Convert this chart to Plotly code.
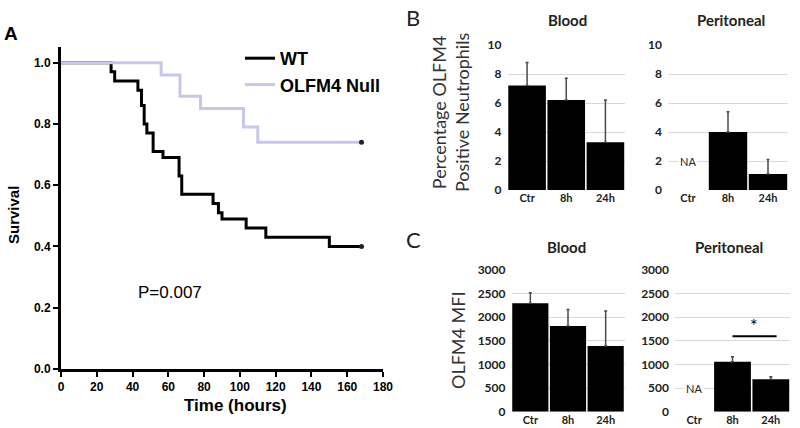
import plotly.graph_objects as go

# ---------------- Data ----------------
# Panel A: Kaplan-Meier survival
wt_time = [0, 28, 30, 43, 45, 46.5, 48, 51.5, 57, 66, 67.5, 85, 88, 90, 103.5, 114.5, 150, 168]
wt_surv = [1.0, 0.97, 0.94, 0.91, 0.86, 0.80, 0.77, 0.71, 0.69, 0.63, 0.57, 0.54, 0.51, 0.49, 0.46, 0.43, 0.40, 0.40]
null_time = [0, 56, 66.5, 78, 102, 110, 168]
null_surv = [1.0, 0.96, 0.89, 0.85, 0.79, 0.74, 0.74]

# Panels B/C: bar charts
categories = ["Ctr", "8h", "24h"]
b_blood = [7.2, 6.2, 3.3]
b_blood_err = [1.6, 1.5, 2.9]
b_perit = [None, 4.0, 1.1]
b_perit_err = [None, 1.4, 1.0]
c_blood = [2295, 1815, 1390]
c_blood_err = [225, 350, 740]
c_perit = [None, 1060, 686]
c_perit_err = [None, 105, 55]

W, H = 800, 428
def fx(px):
    return px / W
def fy(py):
    return 1 - py / H

SURV_FONT = "Liberation Sans, Arial, sans-serif"
BAR_FONT = "Lato, Open Sans, sans-serif"
LAV = "#c6c7ea"

fig = go.Figure()

# ---- Panel A ----
fig.add_trace(go.Scatter(x=wt_time, y=wt_surv, mode="lines", line=dict(shape="hv", color="black", width=3),
                         name="WT", xaxis="x", yaxis="y"))
fig.add_trace(go.Scatter(x=null_time, y=null_surv, mode="lines", line=dict(shape="hv", color=LAV, width=3),
                         name="OLFM4 Null", xaxis="x", yaxis="y"))
fig.add_trace(go.Scatter(x=[wt_time[-1], null_time[-1]], y=[wt_surv[-1], null_surv[-1]], mode="markers",
                         marker=dict(color="#222", size=5), showlegend=False, xaxis="x", yaxis="y"))

# ---- Bar panels ----
def add_bars(vals, errs, xa, ya):
    fig.add_trace(go.Bar(x=categories, y=vals, marker=dict(color="black", line=dict(width=0)),
                         error_y=dict(type="data", array=errs, arrayminus=[0, 0, 0], symmetric=False,
                                      color="#4a4a4a", thickness=1.5, width=1.5),
                         showlegend=False, xaxis=xa, yaxis=ya))

add_bars(b_blood, b_blood_err, "x2", "y2")
add_bars(b_perit, b_perit_err, "x3", "y3")
add_bars(c_blood, c_blood_err, "x4", "y4")
add_bars(c_perit, c_perit_err, "x5", "y5")

surv_tick = dict(family=SURV_FONT, size=12, color="black", weight="bold")
bar_tick = dict(family=BAR_FONT, size=12, color="#222", weight="bold")
cat_tick = dict(family=BAR_FONT, size=11, color="#222", weight="bold")

layout = dict(
    width=W, height=H, margin=dict(l=0, r=0, t=0, b=0, autoexpand=False),
    plot_bgcolor="white", paper_bgcolor="white",
    bargap=0.04,
    showlegend=True,
    legend=dict(x=fx(240), y=fy(40), xanchor="left", yanchor="top", bgcolor="rgba(0,0,0,0)",
                font=dict(family=SURV_FONT, size=18, color="black", weight="bold"), tracegroupgap=0),
    xaxis=dict(domain=[fx(61), fx(383)], range=[0, 180], tickmode="array", tickvals=list(range(0, 181, 20)),
               showgrid=False, zeroline=False, showline=True, linecolor="black", linewidth=3,
               ticks="outside", ticklen=5, tickwidth=2, tickcolor="black", tickfont=surv_tick, anchor="y"),
    yaxis=dict(domain=[fy(369), fy(46.7)], range=[0, 1.052], tickmode="array", tickvals=[0, 0.2, 0.4, 0.6, 0.8, 1.0],
               tickformat=".1f", showgrid=False, zeroline=False, showline=True, linecolor="black", linewidth=3,
               ticks="outside", ticklen=5, tickwidth=2, tickcolor="black", tickfont=surv_tick, anchor="x"),
)

def bar_axes(xd, yd, yrange, ytickvals):
    xa = dict(domain=xd, showgrid=False, zeroline=False, showline=False, ticks="", tickfont=cat_tick,
              type="category", range=[-0.5, 2.5])
    ya = dict(domain=yd, range=yrange, tickvals=ytickvals, showgrid=True, gridcolor="#d9d9d9", gridwidth=1,
              zeroline=False, showline=False, ticks="", tickfont=bar_tick, ticklabelstandoff=5)
    return xa, ya

bx, by = bar_axes([fx(507.5), fx(625)], [fy(190), fy(45)], [0, 10], [0, 2, 4, 6, 8, 10])
layout["xaxis2"] = dict(bx, anchor="y2"); layout["yaxis2"] = dict(by, anchor="x2")
bx, by = bar_axes([fx(668), fx(788)], [fy(190), fy(45)], [0, 10], [0, 2, 4, 6, 8, 10])
layout["xaxis3"] = dict(bx, anchor="y3"); layout["yaxis3"] = dict(by, anchor="x3")
bx, by = bar_axes([fx(511.5), fx(624.5)], [fy(411.7), fy(270)], [0, 3000], [0, 500, 1000, 1500, 2000, 2500, 3000])
layout["xaxis4"] = dict(bx, anchor="y4"); layout["yaxis4"] = dict(by, anchor="x4")
bx, by = bar_axes([fx(675), fx(790)], [fy(411.7), fy(270)], [0, 3000], [0, 500, 1000, 1500, 2000, 2500, 3000])
layout["xaxis5"] = dict(bx, anchor="y5"); layout["yaxis5"] = dict(by, anchor="x5")

fig.update_layout(**layout)

ann = []
def pa(text, x, y, size, family, color="black", weight="normal", angle=0, xanchor="center"):
    ann.append(dict(text=text, x=fx(x), y=fy(y), xref="paper", yref="paper", showarrow=False,
                    xanchor=xanchor, yanchor="middle", textangle=angle,
                    font=dict(family=family, size=size, color=color, weight=weight)))

# Panel labels
pa("A", 11, 34, 19, SURV_FONT, weight="bold")
pa("B", 413, 18, 22, BAR_FONT, color="#222")
pa("C", 414, 240, 22, BAR_FONT, color="#222")
# Panel A titles
pa("Survival", 13, 215, 15, SURV_FONT, weight="bold", angle=-90)
pa("Time (hours)", 235, 405, 17, SURV_FONT, weight="bold")
pa("P=0.007", 170, 292, 17, SURV_FONT)
# Bar titles
pa("Blood", 567, 20, 15, BAR_FONT, color="#222", weight="bold")
pa("Peritoneal", 731, 20, 15, BAR_FONT, color="#222", weight="bold")
pa("Blood", 566, 247, 15, BAR_FONT, color="#222", weight="bold")
pa("Peritoneal", 729, 247, 15, BAR_FONT, color="#222", weight="bold")
pa("Percentage OLFM4<br>Positive Neutrophils", 451, 113, 18, BAR_FONT, color="#333", angle=-90)
pa("OLFM4 MFI", 458, 340, 18, BAR_FONT, color="#333", angle=-90)

fig.update_layout(annotations=ann)

# NA labels (data-anchored)
fig.add_annotation(text="NA", x="Ctr", y=2, xref="x3", yref="y3", showarrow=False, bgcolor="white",
                   font=dict(family=BAR_FONT, size=11, color="#222"))
fig.add_annotation(text="NA", x="Ctr", y=500, xref="x5", yref="y5", showarrow=False, bgcolor="white",
                   font=dict(family=BAR_FONT, size=11, color="#222"))
# Significance bar
fig.add_shape(type="line", x0=1.0, x1=2.15, y0=1600, y1=1600, xref="x5", yref="y5",
              line=dict(color="black", width=2))
fig.add_annotation(text="*", x=1.55, y=1830, xref="x5", yref="y5", showarrow=False,
                   font=dict(family=BAR_FONT, size=18, color="black"))

fig.write_html("out.html", config={"displayModeBar": False},
               post_script="document.body.style.margin='0';document.body.style.overflow='hidden';")
